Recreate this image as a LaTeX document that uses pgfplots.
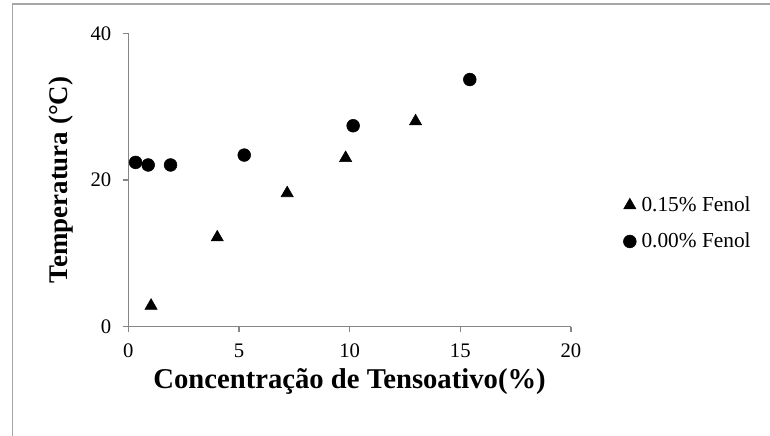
\documentclass[border=0pt]{standalone}
\usepackage{fontspec}
\setmainfont{Liberation Serif}
\usepackage{pgfplots}
\pgfplotsset{compat=1.18}
\definecolor{axgray}{HTML}{868686}
\definecolor{brdgray}{HTML}{A6A6A6}
\begin{document}
\begin{tikzpicture}[x=1pt,y=1pt]
\path[use as bounding box] (0,0) rectangle (577.5,-326.25);
\draw[brdgray, line width=0.9pt] (9.5,-340) -- (9.5,-3) -- (590,-3);
\begin{axis}[
  at={(96.2pt,-245pt)}, anchor=south west,
  scale only axis, width=332pt, height=220pt,
  xmin=0, xmax=20, ymin=0, ymax=40,
  axis lines*=left,
  axis line style={axgray, line width=1pt},
  xtick={0,5,10,15,20}, ytick={0,20,40},
  tick align=outside, major tick length=4.2pt,
  tick style={axgray, line width=1pt},
  every tick label/.append style={font=\fontsize{15.5}{18}\selectfont, black},
  /pgf/number format/assume math mode=true,
  yticklabel style={xshift=-5pt},
  xticklabel style={yshift=-5pt},
  xlabel={\fontsize{21.5}{25}\selectfont\bfseries Concentração de Tensoativo(\%)},
  ylabel={\fontsize{20.2}{24}\selectfont\bfseries Temperatura (°C)},
  xlabel style={yshift=-1pt},
  ylabel style={yshift=6pt},
  legend style={at={(1.118,0.352)}, anchor=west, draw=none, fill=none,
    font=\fontsize{16}{18}\selectfont, row sep=10.5pt, inner sep=0pt,
    nodes={inner xsep=4pt, inner ysep=2pt}},
  legend cell align=left,
  legend image code/.code={\draw[#1] plot coordinates {(0pt,0pt)};},
]
\addplot[only marks, mark=triangle*, mark size=5.3pt, black]
  coordinates {(1.03,2.85) (4.02,12.17) (7.18,18.2) (9.82,23.0) (12.98,28.0)};
\addlegendentry{0.15\% Fenol}
\addplot[only marks, mark=*, mark size=4.8pt, black]
  coordinates {(0.33,22.4) (0.90,22.05) (1.91,22.05) (5.24,23.4) (10.16,27.4) (15.43,33.7)};
\addlegendentry{0.00\% Fenol}
\end{axis}
\end{tikzpicture}
\end{document}
